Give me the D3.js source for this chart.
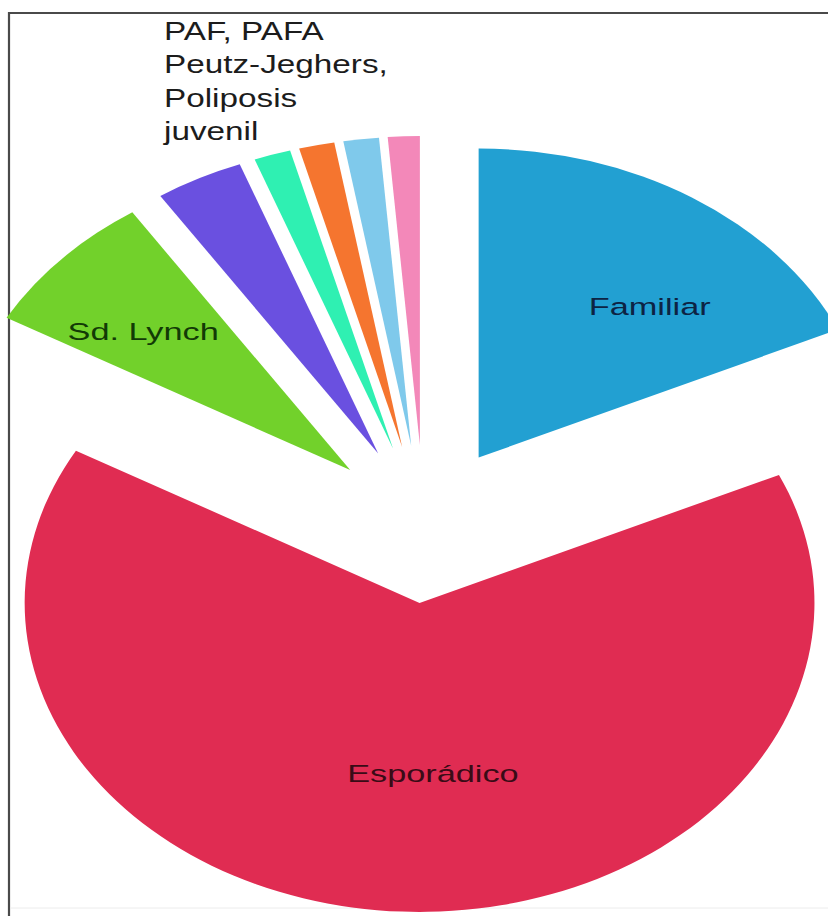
<!DOCTYPE html>
<html>
<head>
<meta charset="utf-8">
<script src="https://cdn.jsdelivr.net/npm/d3@7"></script>
<style>
  html, body { margin: 0; padding: 0; background: #fff; }
  svg { display: block; }
</style>
</head>
<body>
<svg id="chart" width="828" height="916"></svg>
<script>
// Distribución de los casos de cáncer colorrectal (%)
const categories = ["Familiar", "Esporádico", "Sd. Lynch", "PAF", "PAFA", "Peutz-Jeghers", "Poliposis juvenil", "Otros"];
const values     = [18.2, 65.0, 7.5, 3.6, 1.5, 1.45, 1.45, 1.3];
const colors     = ["#22a0d2", "#e02c52", "#72d12b", "#6a50e0", "#2ff0b2", "#f5752f", "#7fc9eb", "#f388b9"];

// Text shown inside the large slices, and the grouped caption for the small ones
const sliceLabels = ["Familiar", "Esporádico", "Sd. Lynch"];
const captionLines = ["PAF, PAFA", "Peutz-Jeghers,", "Poliposis", "juvenil"];

const svg = d3.select("#chart");

// Frame
svg.append("line").attr("x1", 9).attr("y1", 13).attr("x2", 828).attr("y2", 13)
  .attr("stroke", "#4a4a4a").attr("stroke-width", 2.2);
svg.append("line").attr("x1", 9).attr("y1", 12).attr("x2", 9).attr("y2", 916)
  .attr("stroke", "#4a4a4a").attr("stroke-width", 2.2);
svg.append("line").attr("x1", 10).attr("y1", 908).attr("x2", 828).attr("y2", 908)
  .attr("stroke", "#ececec").attr("stroke-width", 1);

// Pie geometry (drawn round, then stretched horizontally)
const cx = 424, cy = 524, R = 309, stretchX = 1.278, explode = 79;

const pie = d3.pie().sort(null).value(d => d.value).startAngle(0).endAngle(2 * Math.PI);
const arc = d3.arc().innerRadius(0).outerRadius(R);
const data = categories.map((c, i) => ({ name: c, value: values[i], color: colors[i] }));
const arcs = pie(data);

const pieG = svg.append("g").attr("transform", `translate(${cx},${cy}) scale(${stretchX},1)`);
pieG.selectAll("path")
  .data(arcs)
  .join("path")
  .attr("d", arc)
  .attr("fill", d => d.data.color)
  .attr("transform", d => {
    const mid = (d.startAngle + d.endAngle) / 2;
    return `translate(${explode * Math.sin(mid)},${-explode * Math.cos(mid)})`;
  });

// Slice labels: polar position (radius, degrees) from each slice's own apex
const labelLayout = {
  "Familiar":   { r: 202, a: 41.5, fill: "#0d2343" },
  "Esporádico": { r: 171, a: 176.5, fill: "#3a0b16" },
  "Sd. Lynch":  { r: 213, a: 310.5, fill: "#123a06" }
};
const labelFont = "'Liberation Sans', Arial, Helvetica, sans-serif";

arcs.filter(d => sliceLabels.includes(d.data.name)).forEach(d => {
  const mid = (d.startAngle + d.endAngle) / 2;
  const L = labelLayout[d.data.name];
  const a = L.a * Math.PI / 180;
  const ux = explode * Math.sin(mid) + L.r * Math.sin(a);
  const uy = -explode * Math.cos(mid) - L.r * Math.cos(a);
  const x = cx + ux * stretchX;
  const y = cy + uy;
  svg.append("text")
    .attr("transform", `translate(${x},${y}) scale(1.40,1)`)
    .attr("text-anchor", "middle")
    .attr("dominant-baseline", "central")
    .attr("font-family", labelFont)
    .attr("font-size", 24.5)
    .attr("fill", L.fill)
    .text(d.data.name);
});

// Caption for the small slices
const cap = svg.append("g").attr("transform", "translate(164,40) scale(1.28,1)");
cap.selectAll("text")
  .data(captionLines)
  .join("text")
  .attr("x", 0)
  .attr("y", (d, i) => i * 33.5)
  .attr("font-family", labelFont)
  .attr("font-size", 26)
  .attr("fill", "#1c1c1c")
  .text(d => d);
</script>
</body>
</html>
